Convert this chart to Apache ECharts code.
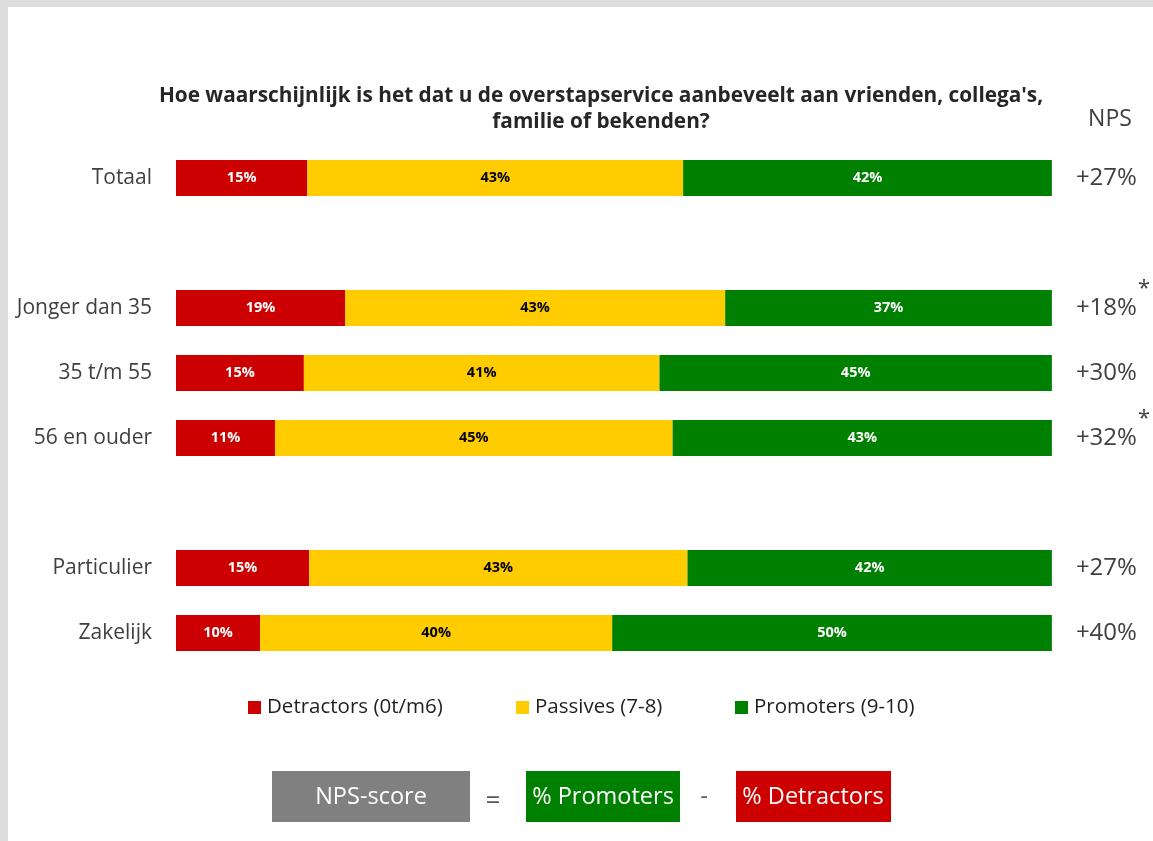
<!DOCTYPE html>
<html lang="nl">
<head>
    <meta charset="UTF-8">
    <title>NPS overstapservice</title>
    <style>
        html, body { margin: 0; padding: 0; background: #fff; }
        #nps { width: 1153px; height: 841px; }
    </style>
</head>
<body>
<div id="nps"></div>
<script src="https://cdn.jsdelivr.net/npm/echarts@6/dist/echarts.min.js"></script>
<script>
    // rijen (lege strings = witruimte tussen de groepen)
    var groepen = ['Totaal', '', 'Jonger dan 35', '35 t/m 55', '56 en ouder', ' ', 'Particulier', 'Zakelijk']
    var detractors = [15.0, '-', 19.3, 14.6, 11.3, '-', 15.2, 9.6]
    var passives = [42.9, '-', 43.4, 40.6, 45.4, '-', 43.2, 40.2]
    var promoters = [42.1, '-', 37.3, 44.8, 43.3, '-', 41.6, 50.2]
    var nps = [27, null, 18, 30, 32, null, 27, 40]
    var significant = [false, false, true, false, true, false, false, false]

    var legendNames = ['Detractors (0t/m6)', 'Passives (7-8)', 'Promoters (9-10)']
    var kleuren = ['#cc0000', '#ffcc00', '#008000']

    var font = '"Open Sans", Lato, sans-serif'

    var chart = echarts.init(document.getElementById('nps'))

    function pct(p) {
        return Math.round(p.value) + '%'
    }

    function legend(i, left) {
        return {
            data: [legendNames[i]],
            left: left,
            top: 697,
            padding: 0,
            icon: 'rect',
            itemWidth: 13,
            itemHeight: 13,
            itemGap: 0,
            textStyle: {fontFamily: font, fontSize: 20.5, color: '#1f1f1f', padding: [0, 0, 0, 1]}
        }
    }

    function serie(i, data, labelColor) {
        return {
            name: legendNames[i],
            type: 'bar',
            stack: 'nps',
            barWidth: 36,
            data: data,
            itemStyle: {color: kleuren[i]},
            label: {
                show: true,
                position: 'inside',
                formatter: pct,
                fontFamily: font,
                fontWeight: 'bold',
                fontSize: 14.5,
                color: labelColor
            },
            emphasis: {disabled: true}
        }
    }

    option = {
        animation: false,
        backgroundColor: '#ffffff',
        title: {
            text: "Hoe waarschijnlijk is het dat u de overstapservice aanbeveelt aan vrienden, collega's,\nfamilie of bekenden?",
            left: 596,
            top: 78,
            textAlign: 'center',
            textStyle: {
                fontFamily: font,
                fontSize: 20.8,
                fontWeight: 'bold',
                color: '#262626',
                lineHeight: 26
            }
        },
        legend: [legend(0, 248), legend(1, 516), legend(2, 735)],
        grid: {left: 176, right: 101, top: 145.5, bottom: 175.5},
        xAxis: {type: 'value', min: 0, max: 100, show: false},
        yAxis: [
            {
                type: 'category',
                data: groepen,
                inverse: true,
                axisLine: {show: false},
                axisTick: {show: false},
                axisLabel: {fontFamily: font, fontSize: 21, color: '#404040', margin: 24}
            },
            {
                type: 'category',
                data: groepen,
                inverse: true,
                position: 'right',
                axisLine: {show: false},
                axisTick: {show: false},
                axisLabel: {
                    margin: 24,
                    align: 'left',
                    formatter: function (v, i) {
                        if (nps[i] === null) return ''
                        var s = '{v|+' + nps[i] + '%}'
                        if (significant[i]) s += '{s|*}'
                        return s
                    },
                    rich: {
                        v: {fontFamily: font, fontSize: 24, color: '#404040', lineHeight: 60},
                        s: {fontFamily: font, fontSize: 22, color: '#404040', verticalAlign: 'top', padding: [0, 0, 0, 1]}
                    }
                }
            }
        ],
        series: [
            serie(0, detractors, '#ffffff'),
            serie(1, passives, '#000000'),
            serie(2, promoters, '#ffffff')
        ],
        graphic: [
            // grijze rand van de dia
            {type: 'rect', left: 0, top: 0, shape: {width: 1153, height: 7}, style: {fill: '#dddddd'}},
            {type: 'rect', left: 0, top: 0, shape: {width: 8, height: 841}, style: {fill: '#dddddd'}},
            // kolomkop
            {type: 'text', x: 1110, y: 119, style: {text: 'NPS', fontFamily: font, fontSize: 23, fill: '#404040', align: 'center', verticalAlign: 'middle'}},
            // formule onderaan
            {
                type: 'group', left: 272, top: 771,
                children: [
                    {type: 'rect', shape: {width: 198, height: 51}, style: {fill: '#808080'}},
                    {type: 'text', x: 99, y: 26, style: {text: 'NPS-score', fontFamily: font, fontSize: 23.5, fill: '#ffffff', align: 'center', verticalAlign: 'middle'}}
                ]
            },
            {type: 'text', x: 493, y: 802, style: {text: '=', fontFamily: font, fontSize: 26, fill: '#595959', align: 'center', verticalAlign: 'middle'}},
            {
                type: 'group', left: 526, top: 771,
                children: [
                    {type: 'rect', shape: {width: 154, height: 51}, style: {fill: '#008000'}},
                    {type: 'text', x: 77, y: 26, style: {text: '% Promoters', fontFamily: font, fontSize: 23.5, fill: '#ffffff', align: 'center', verticalAlign: 'middle'}}
                ]
            },
            {type: 'text', x: 704, y: 797, style: {text: '-', fontFamily: font, fontSize: 24, fill: '#595959', align: 'center', verticalAlign: 'middle'}},
            {
                type: 'group', left: 736, top: 771,
                children: [
                    {type: 'rect', shape: {width: 155, height: 51}, style: {fill: '#cc0000'}},
                    {type: 'text', x: 77, y: 26, style: {text: '% Detractors', fontFamily: font, fontSize: 23.5, fill: '#ffffff', align: 'center', verticalAlign: 'middle'}}
                ]
            }
        ]
    };

    chart.setOption(option);
</script>
</body>
</html>
